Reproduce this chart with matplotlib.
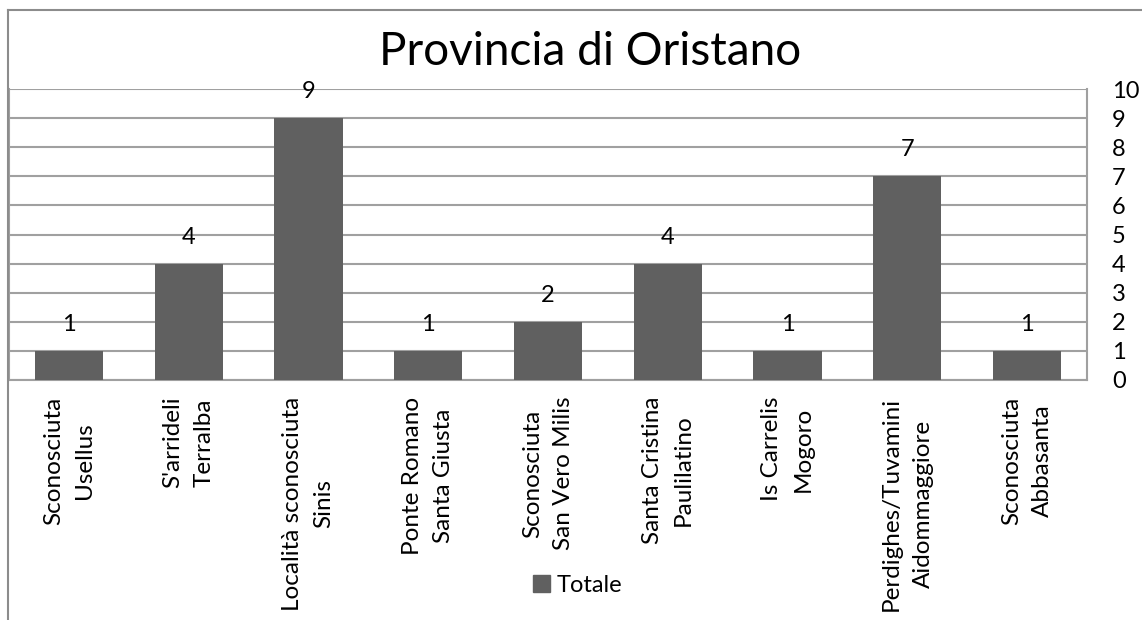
import matplotlib.pyplot as plt
from matplotlib.lines import Line2D
from matplotlib.patches import Patch

categorie = ["Sconosciuta\nUsellus", "S'arrideli\nTerralba", "Località sconosciuta\nSinis",
             "Ponte Romano\nSanta Giusta", "Sconosciuta\nSan Vero Milis", "Santa Cristina\nPaulilatino",
             "Is Carrelis\nMogoro", "Perdighes/Tuvamini\nAidommaggiore", "Sconosciuta\nAbbasanta"]
totale = [1, 4, 9, 1, 2, 4, 1, 7, 1]
y_ticks = list(range(0, 11))

plt.rcParams['font.family'] = ['Lato', 'DejaVu Sans']
bar_col = '#606060'
grid_col = '#a0a0a0'

W, H = 1142, 620
fig = plt.figure(figsize=(W / 100, H / 100), dpi=100)
ax = fig.add_axes([9 / W, 1 - 380 / H, (1087 - 9) / W, 291 / H])

x = list(range(len(categorie)))
bars = ax.bar(x, totale, width=0.57, color=bar_col, zorder=3)
for xi, v in zip(x, totale):
    ax.text(xi, v + 0.55, str(v), ha='center', va='bottom', fontsize=17, zorder=4)

ax.set_xlim(-0.5, len(categorie) - 0.5)
ax.set_ylim(0, 10)
ax.set_yticks(y_ticks)
ax.yaxis.tick_right()
ax.tick_params(axis='y', length=0, labelsize=17, pad=18)
for lbl in ax.get_yticklabels():
    lbl.set_horizontalalignment('left')
ax.grid(axis='y', color=grid_col, linewidth=1.5, zorder=0)
for s in ['left', 'right', 'bottom']:
    ax.spines[s].set_color(grid_col)
    ax.spines[s].set_linewidth(1.5)
ax.spines['top'].set_visible(False)

ax.set_xticks(x)
ax.set_xticklabels([])
ax.tick_params(axis='x', length=0)
for xi, lab in zip(x, categorie):
    ax.annotate(lab, xy=(xi, 0), xycoords='data', xytext=(0, -12), textcoords='offset points',
                rotation=90, ha='center', va='top', multialignment='center', fontsize=17.5,
                linespacing=1.6, annotation_clip=False)

fig.text(590 / W, 1 - 52 / H, 'Provincia di Oristano', ha='center', va='center', fontsize=33)

# bordo del grafico
fig.add_artist(Line2D([8 / W, 8 / W], [0, 1 - 10 / H], transform=fig.transFigure, color='#8c8c8c', lw=1.5))
fig.add_artist(Line2D([8 / W, 1], [1 - 10 / H, 1 - 10 / H], transform=fig.transFigure, color='#8c8c8c', lw=1.5))

fig.legend(handles=[Patch(color=bar_col, label='Totale')], loc='center', bbox_to_anchor=(578 / W, 1 - 585 / H),
           frameon=False, fontsize=17, handlelength=0.7, handleheight=0.7, handletextpad=0.3)

fig.savefig('out.png', dpi=100)
